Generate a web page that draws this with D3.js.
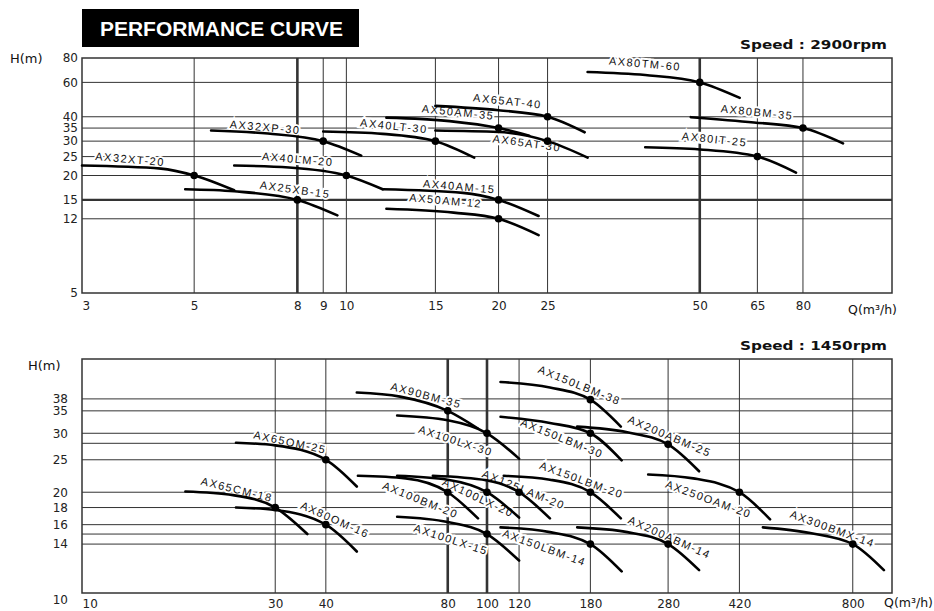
<!DOCTYPE html>
<html>
<head>
<meta charset="utf-8">
<script src="https://cdn.jsdelivr.net/npm/d3@7"></script>
<style>
  body { margin: 0; background: #fff; }
  text { font-family: "Liberation Sans", Arial, sans-serif; }
</style>
</head>
<body>
<div id="Chart"></div>
<script>
// ---- top panel (2900 rpm) ----
var topQTicks = [3, 5, 8, 9, 10, 15, 20, 25, 50, 65, 80];
var topHTicks = [80, 60, 40, 35, 30, 25, 20, 15, 12, 5];
var topQGrid = [5, 8, 9, 10, 15, 20, 25, 50, 65, 80];
var topHGrid = [60, 40, 35, 30, 25, 20, 15, 12];
var topQBold = [8, 50];
var topHBold = [15];

var topPumps = ["AX32XT-20", "AX25XB-15", "AX32XP-30", "AX40LM-20", "AX40LT-30", "AX50AM-35",
  "AX65AT-40", "AX65AT-30", "AX40AM-15", "AX50AM-12", "AX80TM-60", "AX80BM-35", "AX80IT-25"];
var topCurves = [
  [[3, 22.5], [4.3, 21.7], [5, 20], [6, 16.8]],
  [[4.8, 17], [6, 16.6], [8, 15], [9.6, 12.5]],
  [[5.4, 34], [7, 32.8], [9, 30], [10.7, 25.3]],
  [[6, 22.5], [7.7, 22], [10, 20], [11.8, 17]],
  [[9, 33.6], [11.8, 32.7], [15, 30], [17.9, 24.7]],
  [[12, 39.6], [16, 38], [20, 35], [23, 32]],
  [[15, 45.5], [20, 43.2], [25, 40], [29.6, 33.3]],
  [[15, 34], [20, 33.4], [25, 30], [30, 24.7]],
  [[11.8, 17], [17, 16.3], [20, 15], [24, 12.4]],
  [[12, 13.5], [16.3, 12.9], [20, 12], [24, 9.9]],
  [[30, 67.8], [39, 65.4], [50, 60], [60, 50]],
  [[48, 39.8], [64, 37.4], [80, 35], [96, 29.2]],
  [[39, 27.9], [50, 27.2], [65, 25], [77.5, 20.7]]
];
var topRated = [[5, 20], [8, 15], [9, 30], [10, 20], [15, 30], [20, 35],
  [25, 40], [25, 30], [20, 15], [20, 12], [50, 60], [80, 35], [65, 25]];
var topLabelAt = [[3.73, 23.3], [7.9, 16.3], [6.9, 34], [8.0, 23.3], [12.4, 34.5], [16.6, 40.6],
  [20.8, 46.3], [22.7, 28.2], [16.7, 16.9], [15.7, 14.3], [38.9, 71.9], [64.8, 40.6], [53.4, 29.5]];
var topLabelTilt = [5, 8, 5, 5, 6, 6, 6, 8, 5, 5, 5, 6, 6];

// ---- bottom panel (1450 rpm) ----
var botQTicks = [10, 30, 40, 80, 100, 120, 180, 280, 420, 800];
var botHTicks = [38, 35, 30, 25, 20, 18, 16, 14, 10];
var botQGrid = [30, 40, 80, 100, 120, 180, 280, 420, 800];
var botHGrid = [38, 35, 30, 28, 25, 20, 18, 16, 15, 14];
var botQBold = [80, 100];
var botHBold = [];

var botPumps = ["AX65CM-18", "AX80OM-16", "AX65OM-25", "AX90BM-35", "AX100LX-30", "AX150LBM-38",
  "AX150LBM-30", "AX200ABM-25", "AX150LBM-20", "AX250OAM-20", "AX300BMX-14", "AX200ABM-14",
  "AX150LBM-14", "AX100LX-15", "AX100BM-20", "AX100LX-20", "AX125LAM-20"];
var botCurves = [
  [[18, 20.1], [23.6, 19.6], [30, 18], [36, 15]],
  [[24, 18], [30, 17.7], [40, 16], [47.7, 13.3]],
  [[24, 28.1], [30, 27.6], [40, 25], [47.7, 20.8]],
  [[47.7, 39.7], [61, 38.6], [80, 35], [95, 31]],
  [[60, 33.9], [80, 32.8], [100, 30], [120, 25.2]],
  [[108, 42.7], [143, 41.1], [180, 37.8], [214, 31.4]],
  [[108, 33.6], [143, 32.2], [180, 30], [215, 24.9]],
  [[167, 31.4], [222, 30.2], [280, 27.8], [334, 23.1]],
  [[110, 22.4], [143, 21.8], [180, 20], [214, 16.7]],
  [[250, 22.6], [323, 22], [420, 20], [500, 16.6]],
  [[480, 15.7], [628, 15.1], [800, 14], [955, 11.7]],
  [[167, 15.7], [222, 15.2], [280, 14], [334, 11.7]],
  [[108, 15.7], [143, 15.2], [180, 14], [215, 11.6]],
  [[60, 16.9], [80, 16.3], [100, 15], [120, 12.5]],
  [[48, 22.4], [63, 22], [80, 20], [95, 16.7]],
  [[60, 22.4], [80, 21.8], [100, 20], [120, 16.8]],
  [[73.5, 22.4], [100, 21.7], [120, 20], [143, 16.7]]
];
var botRated = [[30, 18], [40, 16], [40, 25], [80, 35], [100, 30], [180, 37.8],
  [180, 30], [280, 27.8], [180, 20], [420, 20], [800, 14], [280, 14],
  [180, 14], [100, 15], [80, 20], [100, 20], [120, 20]];
var botLabelAt = [[24.1, 20.3], [42.1, 16.5], [32.6, 28.1], [70.7, 38.8], [83.6, 28.4], [169, 41.6],
  [153, 28.9], [282, 29.3], [171, 21.7], [352, 19.0], [712, 15.5], [282, 14.6],
  [138.5, 13.6], [81.4, 14.4], [68.4, 18.9], [95, 19.2], [123, 20.3]];
var botLabelTilt = [14, 24, 12, 15, 18, 22, 22, 23, 20, 20, 20, 24, 20, 18, 22, 25, 22];

var width = 934, height = 611;
var svg = d3.select("#Chart").append("svg")
    .attr("width", width)
    .attr("height", height);

// title block
svg.append("rect")
    .attr("x", 82).attr("y", 9)
    .attr("width", 277).attr("height", 38)
    .attr("fill", "#000");
svg.append("text")
    .attr("x", 100).attr("y", 36)
    .attr("textLength", 243).attr("lengthAdjust", "spacingAndGlyphs")
    .style("font-size", "21px").style("font-weight", "bold")
    .style("fill", "#fff")
    .text("PERFORMANCE  CURVE");

function drawPanel(p) {
  var x = d3.scaleLog().domain(p.qDomain).range([82, 892]);
  var y = d3.scaleLog().domain(p.hDomain).range([p.bottom, p.top]);
  var g = svg.append("g");

  // gridlines
  g.selectAll("line.hgrid")
    .data(p.hGrid)
    .enter().append("line")
    .attr("x1", 82).attr("x2", 892)
    .attr("y1", function(d) { return y(d); })
    .attr("y2", function(d) { return y(d); })
    .attr("stroke", "#333")
    .attr("stroke-width", function(d) { return p.hBold.indexOf(d) >= 0 ? 2.2 : 1; });
  g.selectAll("line.vgrid")
    .data(p.qGrid)
    .enter().append("line")
    .attr("y1", p.top).attr("y2", p.bottom)
    .attr("x1", function(d) { return x(d); })
    .attr("x2", function(d) { return x(d); })
    .attr("stroke", "#333")
    .attr("stroke-width", function(d) { return p.qBold.indexOf(d) >= 0 ? 2.6 : 1; });

  // frame
  g.append("rect")
    .attr("x", 82).attr("y", p.top)
    .attr("width", 810).attr("height", p.bottom - p.top)
    .attr("fill", "none").attr("stroke", "#333").attr("stroke-width", 1.5);

  // axes (labels only)
  var xAxis = d3.axisBottom(x).tickValues(p.qTicks).tickFormat(d3.format("d")).tickSize(0).tickPadding(p.xPad);
  var yAxis = d3.axisLeft(y).tickValues(p.hTicks).tickFormat(d3.format("d")).tickSize(0).tickPadding(p.yPad);
  var gx = g.append("g").attr("transform", "translate(0," + p.bottom + ")").call(xAxis);
  var gy = g.append("g").attr("transform", "translate(82,0)").call(yAxis);
  [gx, gy].forEach(function(a) {
    a.select(".domain").remove();
    a.selectAll("text")
      .style("font-family", "'DejaVu Sans', sans-serif")
      .style("font-size", "12px")
      .style("fill", "#222");
  });
  // first Q label sits right of the corner, last H label drops below it
  gx.selectAll(".tick text").filter(function(d) { return d === p.qDomain[0]; })
    .attr("text-anchor", "start");
  gy.selectAll(".tick text").filter(function(d) { return d === p.hDomain[0]; })
    .attr("dy", p.lowDy);

  // pump labels with white halo (cuts the gridlines like the print)
  g.selectAll("text.pump")
    .data(p.names)
    .enter().append("text")
    .attr("class", "pump")
    .attr("transform", function(d, i) {
      return "translate(" + x(p.labelAt[i][0]) + "," + y(p.labelAt[i][1]) + ") rotate(" + p.tilt[i] + ")";
    })
    .attr("text-anchor", "middle")
    .attr("dy", p.labelDy)
    .style("font-size", "11px")
    .style("letter-spacing", "1.5px")
    .style("fill", "#111")
    .style("stroke", "#fff")
    .style("stroke-width", 4)
    .style("paint-order", "stroke")
    .text(function(d) { return d; });

  // curves
  var line = d3.line()
    .x(function(d) { return x(d[0]); })
    .y(function(d) { return y(d[1]); })
    .curve(d3.curveMonotoneX);
  g.selectAll("path.curve")
    .data(p.curves)
    .enter().append("path")
    .attr("class", "curve")
    .attr("d", line)
    .attr("fill", "none")
    .attr("stroke", "#000")
    .attr("stroke-width", 2.6)
    .attr("stroke-linecap", "round");

  // rated points
  g.selectAll("circle.rated")
    .data(p.rated)
    .enter().append("circle")
    .attr("cx", function(d) { return x(d[0]); })
    .attr("cy", function(d) { return y(d[1]); })
    .attr("r", 3.8)
    .attr("fill", "#000");

  return g;
}

drawPanel({
  qDomain: [3, 120], hDomain: [5, 80], top: 58, bottom: 293,
  qTicks: topQTicks, hTicks: topHTicks, qGrid: topQGrid, hGrid: topHGrid,
  qBold: topQBold, hBold: topHBold, xPad: 8, yPad: 4, lowDy: "0.32em", labelDy: "0.05em",
  names: topPumps, curves: topCurves, rated: topRated, labelAt: topLabelAt, tilt: topLabelTilt
});
drawPanel({
  qDomain: [10, 1000], hDomain: [10, 50], top: 359, bottom: 593,
  qTicks: botQTicks, hTicks: botHTicks, qGrid: botQGrid, hGrid: botHGrid,
  qBold: botQBold, hBold: botHBold, xPad: 6, yPad: 14, lowDy: "0.9em", labelDy: "0.3em",
  names: botPumps, curves: botCurves, rated: botRated, labelAt: botLabelAt, tilt: botLabelTilt
});

// axis titles and speed notes
var notes = [
  {t: "H(m)", x: 10, y: 63, a: "start", w: null, bold: false, s: 13},
  {t: "H(m)", x: 28, y: 370, a: "start", w: null, bold: false, s: 13},
  {t: "Speed : 2900rpm", x: 887, y: 49, a: "end", w: 147, bold: true, s: 11.5},
  {t: "Speed : 1450rpm", x: 887, y: 350, a: "end", w: 147, bold: true, s: 11.5},
  {t: "Q(m\u00b3/h)", x: 897, y: 314, a: "end", w: null, bold: false, s: 12.5},
  {t: "Q(m\u00b3/h)", x: 933, y: 607, a: "end", w: null, bold: false, s: 12.5}
];
notes.forEach(function(n) {
  var t = svg.append("text")
    .attr("x", n.x).attr("y", n.y)
    .attr("text-anchor", n.a)
    .style("font-family", "'DejaVu Sans', sans-serif")
    .style("font-size", n.s + "px")
    .style("font-weight", n.bold ? "bold" : "normal")
    .style("fill", "#111")
    .text(n.t);
  if (n.w) t.attr("textLength", n.w).attr("lengthAdjust", "spacingAndGlyphs");
});
</script>
</body>
</html>
